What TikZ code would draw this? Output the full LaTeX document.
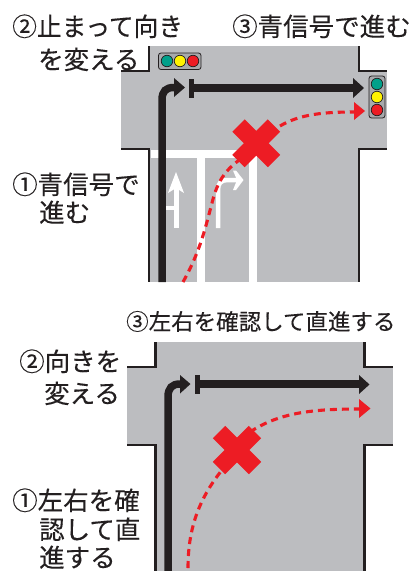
\documentclass[tikz,border=0pt]{standalone}
\usepackage{fontspec}
\newfontfamily\jpfont[FakeBold=0.25]{Noto Sans CJK JP}
\definecolor{road}{HTML}{BCBDC0}
\definecolor{ink}{HTML}{231F20}
\definecolor{redx}{HTML}{ED1C24}
\definecolor{sgreen}{HTML}{00A08A}
\definecolor{syellow}{HTML}{FFF200}
\definecolor{lampbox}{HTML}{A7A9AC}
\tikzset{
  curb/.style={draw=ink,line width=2.6pt,line join=miter},
  blackpath/.style={draw=ink,line width=7.5pt},
  stopbar/.style={draw=ink,line width=5pt},
  redpath/.style={draw=redx,line width=3.1pt,dash pattern=on 7pt off 5pt},
  crossarm/.style={draw=redx,line width=17.5pt},
  whiteline/.style={draw=white,line width=8pt},
  lanearrow/.style={draw=white,line width=5pt},
  lamp/.style={draw=ink,line width=0.7pt,circle,minimum size=11.5pt,inner sep=0pt},
  lampcase/.style={draw=ink,line width=0.8pt,fill=lampbox,rounded corners=2.5pt},
  jp/.style={font=\jpfont\fontsize{25.5pt}{27pt}\selectfont,text=ink,inner sep=0pt,anchor=base west},
  jpsmall/.style={font=\jpfont\fontsize{22.5pt}{24pt}\selectfont,text=ink,inner sep=0pt,anchor=base west},
}
\begin{document}
\begin{tikzpicture}[x=1pt,y=-1pt]
\useasboundingbox (0,0) rectangle (416,571);
% ---------- upper intersection
\fill[road] (150,46) rectangle (359,282);
\fill[road] (121,71) rectangle (387,149);
\draw[curb] (121,71) -- (149,71) -- (149,46);
\draw[curb] (359,46) -- (359,71) -- (387,71);
\draw[curb] (121,149) -- (149,149) -- (149,282);
\draw[curb] (387,149) -- (359,149) -- (359,282);
% lane markings
\fill[white] (151,149.5) rectangle (257,158);
\draw[whiteline] (200.5,155) -- (200.5,282);
\draw[whiteline] (253,155) -- (253,282);
% lane arrows
\draw[lanearrow] (176,228) -- (176,185);
\fill[white] (176,172) -- (184,193) -- (177.5,189) -- (174.5,189) -- (168,193) -- cycle;
\draw[white,line width=3.5pt] (176,208) -- (160,208);
\draw[white,line width=4.5pt] (218,228) -- (218,190) .. controls (218,183) and (221,180) .. (228,180) -- (238,180);
\fill[white] (243.5,180) -- (236,190) -- (233,190) -- (237,180) -- (233,170.5) -- (236,170.5) -- cycle;
% black path
\draw[blackpath] (162,282) -- (162,100) .. controls (162,91) and (166,87.5) .. (174,87.5) -- (176,87.5);
\fill[ink] (185,87.5) -- (174,78) -- (174,97) -- cycle;
\draw[stopbar] (191,79) -- (191,97.5);
\draw[blackpath] (191,88) -- (354,88);
\fill[ink] (364,88) -- (353,78) -- (353,98) -- cycle;
% red path
\draw[redpath] (183,282) .. controls (201,250) and (206,225) .. (212,203) .. controls (218,178) and (228,168) .. (242,158);
\draw[redpath] (280,126) .. controls (300,114) and (325,112) .. (354,112);
\fill[redx] (365,111) -- (354,102) -- (354,120) -- cycle;
\draw[crossarm] (238.5,125.5) -- (274,161);
\draw[crossarm] (274,125.5) -- (238.5,161);
% signals
\draw[lampcase] (158.5,53) rectangle (201,69.5);
\node[lamp,fill=sgreen] (g1) at (167,61) {};
\node[lamp,fill=syellow] (y1) at (180,61) {};
\node[lamp,fill=redx] (r1) at (193,61) {};
\draw[lampcase] (369,76) rectangle (385,118);
\node[lamp,fill=sgreen] (g2) at (377,84) {};
\node[lamp,fill=syellow] (y2) at (377,97) {};
\node[lamp,fill=redx] (r2) at (377,110) {};
% texts
\node[jp,xscale=.97] (t1) at (12,36) {②止まって向き};
\node[jp] (t2) at (38,69) {を変える};
\node[jp] (t3) at (232,36) {③青信号で進む};
\node[jp] (t4) at (12,194) {①青信号で};
\node[jp] (t5) at (39,222) {進む};
% ---------- lower intersection
\fill[road] (156,342) rectangle (364,571);
\fill[road] (127,367) rectangle (393,445);
\draw[curb] (127,367) -- (155.5,367) -- (155.5,342);
\draw[curb] (364.5,342) -- (364.5,367) -- (393,367);
\draw[curb] (127,445) -- (155.5,445) -- (155.5,571);
\draw[curb] (393,445) -- (364.5,445) -- (364.5,571);
\draw[blackpath] (168,571) -- (168,397) .. controls (168,388) and (172,384) .. (180,384) -- (181,384);
\fill[ink] (190.5,384) -- (180,375) -- (180,393.5) -- cycle;
\draw[stopbar] (197,375) -- (197,393.5);
\draw[blackpath] (197,384) -- (360,384);
\fill[ink] (369.5,384.5) -- (359,375) -- (359,394) -- cycle;
\draw[redpath] (188,568) .. controls (188,530) and (198,500) .. (222,470);
\draw[redpath] (250,432) .. controls (280,412) and (315,409) .. (360,409);
\fill[redx] (370.5,408.5) -- (359,399) -- (359,418) -- cycle;
\draw[crossarm] (219,432) -- (255,468);
\draw[crossarm] (255,432) -- (219,468);
\node[jpsmall] (b1) at (126,330) {③左右を確認して直進する};
\node[jp] (b2) at (19,371) {②向きを};
\node[jp] (b3) at (44,403) {変える};
\node[jp] (b4) at (12,510) {①左右を確};
\node[jp] (b5) at (39,539) {認して直};
\node[jp] (b6) at (39,567) {進する};
\end{tikzpicture}
\end{document}
